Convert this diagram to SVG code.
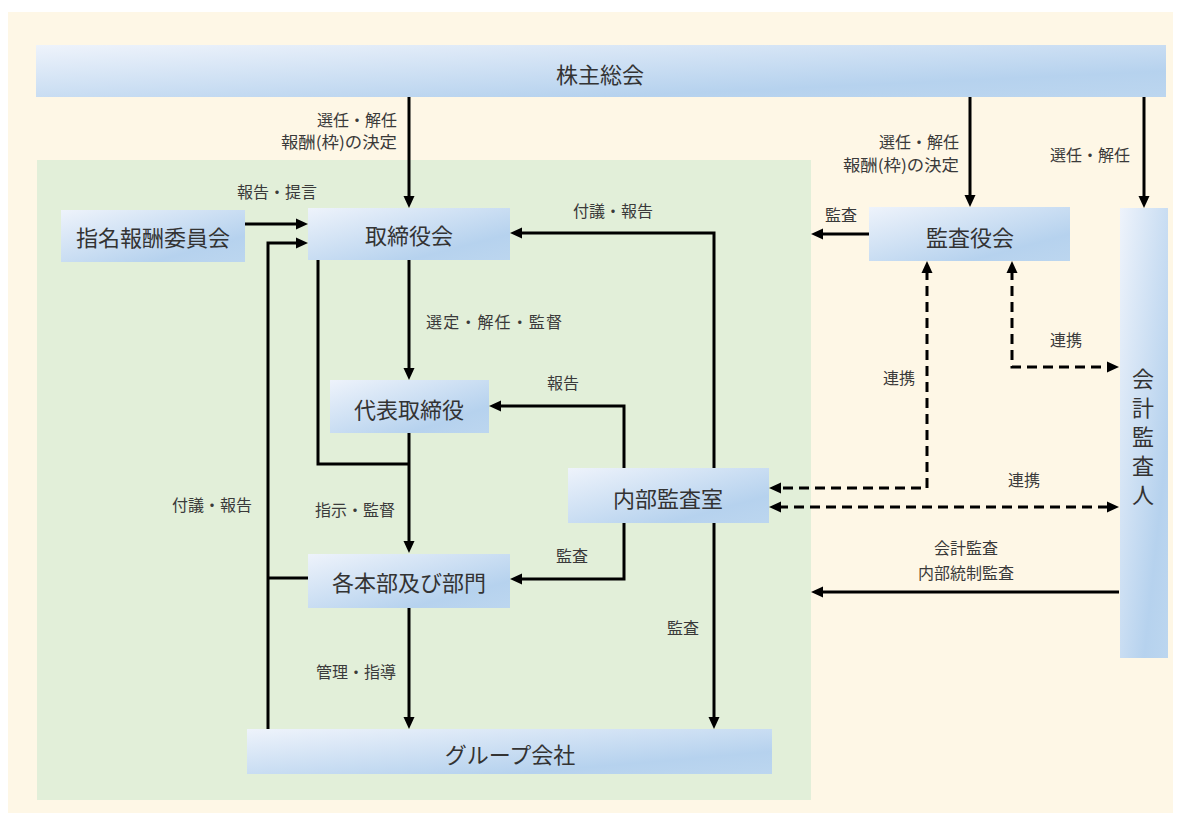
<svg xmlns="http://www.w3.org/2000/svg" width="1181" height="816" viewBox="0 0 1181 816">
<defs>
<linearGradient id="box" x1="0" y1="0" x2="1" y2="1">
<stop offset="0" stop-color="#eef3fb"/>
<stop offset="0.75" stop-color="#b6d2ee"/>
<stop offset="1" stop-color="#bcd6ef"/>
</linearGradient>
<marker id="ah" viewBox="0 0 12 12" refX="3" refY="6" markerWidth="12" markerHeight="12" markerUnits="userSpaceOnUse" orient="auto-start-reverse">
<path d="M0,0.5 L12,6 L0,11.5 z" fill="#000"/>
</marker>
<style>
.node{fill:url(#box)}
.nt{font-family:"Noto Sans CJK JP","Noto Sans CJK SC",sans-serif;font-size:22px;fill:#333;text-anchor:middle}
.lb{font-family:"Noto Sans CJK JP","Noto Sans CJK SC",sans-serif;font-size:16px;fill:#3a3a3a;text-anchor:middle}
.r{text-anchor:end}
.ln{fill:none;stroke:#000;stroke-width:3}
.ar{marker-end:url(#ah)}
.da{stroke-dasharray:10,6}
.both{marker-start:url(#ah);marker-end:url(#ah)}
</style>
</defs>
<rect x="8" y="12" width="1165" height="801" fill="#fef7e6"/>
<rect x="37" y="160" width="774" height="640" fill="#e2efd9"/>

<g id="connectors">
<path class="ln ar" d="M409,97 V199"/>
<path class="ln ar" d="M970,97 V198"/>
<path class="ln ar" d="M1144,97 V199"/>
<path class="ln ar" d="M245,224 H299"/>
<path class="ln ar" d="M268,729 V243 H299"/>
<path class="ln" d="M308,578 H268"/>
<path class="ln ar" d="M409,260 V371"/>
<path class="ln" d="M318,260 V464 H409"/>
<path class="ln ar" d="M409,433 V544"/>
<path class="ln ar" d="M409,608 V720"/>
<path class="ln ar" d="M624,468 V406 H498"/>
<path class="ln ar" d="M624,523 V579 H519"/>
<path class="ln ar" d="M714,468 V233 H519"/>
<path class="ln ar" d="M714,523 V720"/>
<path class="ln ar" d="M869,234 H820"/>
<path class="ln da both" d="M927,270 V488 H778"/>
<path class="ln da both" d="M1012,270 V367 H1110"/>
<path class="ln da both" d="M778,507 H1110"/>
<path class="ln ar" d="M1119,592 H820"/>

<text class="lb r" x="397" y="126">選任・解任</text>
<text class="lb r" x="397" y="148" textLength="116" lengthAdjust="spacingAndGlyphs">報酬(枠)の決定</text>
<text class="lb" x="277" y="198">報告・提言</text>
<text class="lb" x="613" y="217">付議・報告</text>
<text class="lb" x="494" y="328" textLength="136" lengthAdjust="spacing">選定・解任・監督</text>
<text class="lb" x="563" y="389">報告</text>
<text class="lb" x="355" y="516">指示・監督</text>
<text class="lb" x="212" y="511">付議・報告</text>
<text class="lb" x="572" y="562">監査</text>
<text class="lb" x="683" y="634">監査</text>
<text class="lb" x="356" y="678">管理・指導</text>
<text class="lb" x="841" y="221">監査</text>
<text class="lb r" x="959" y="148">選任・解任</text>
<text class="lb r" x="959" y="171" textLength="116" lengthAdjust="spacingAndGlyphs">報酬(枠)の決定</text>
<text class="lb" x="1090" y="161">選任・解任</text>
<text class="lb" x="1066" y="346">連携</text>
<text class="lb" x="899" y="384">連携</text>
<text class="lb" x="1024" y="486">連携</text>
<text class="lb" x="966" y="554">会計監査</text>
<text class="lb" x="966" y="579">内部統制監査</text>
</g>

<g id="n-shareholders">
<rect class="node" x="36" y="45" width="1130" height="52"/>
<text class="nt" x="600" y="83">株主総会</text>
</g>
<g id="n-nomination">
<rect class="node" x="61" y="210" width="184" height="52"/>
<text class="nt" x="153" y="246">指名報酬委員会</text>
</g>
<g id="n-board">
<rect class="node" x="308" y="208" width="202" height="52"/>
<text class="nt" x="409" y="244">取締役会</text>
</g>
<g id="n-representative">
<rect class="node" x="330" y="380" width="159" height="53"/>
<text class="nt" x="409" y="418">代表取締役</text>
</g>
<g id="n-internal-audit">
<rect class="node" x="568" y="468" width="201" height="55"/>
<text class="nt" x="668" y="507">内部監査室</text>
</g>
<g id="n-divisions">
<rect class="node" x="308" y="554" width="202" height="54"/>
<text class="nt" x="409" y="591">各本部及び部門</text>
</g>
<g id="n-group">
<rect class="node" x="247" y="729" width="525" height="45"/>
<text class="nt" x="510" y="763">グループ会社</text>
</g>
<g id="n-auditboard">
<rect class="node" x="869" y="207" width="201" height="54"/>
<text class="nt" x="970" y="246">監査役会</text>
</g>
<g id="n-accounting-auditor">
<rect class="node" x="1120" y="208" width="48" height="450"/>
<text class="nt" x="1143" y="387">会</text>
<text class="nt" x="1143" y="416">計</text>
<text class="nt" x="1143" y="445">監</text>
<text class="nt" x="1143" y="474">査</text>
<text class="nt" x="1143" y="503">人</text>
</g>
</svg>
